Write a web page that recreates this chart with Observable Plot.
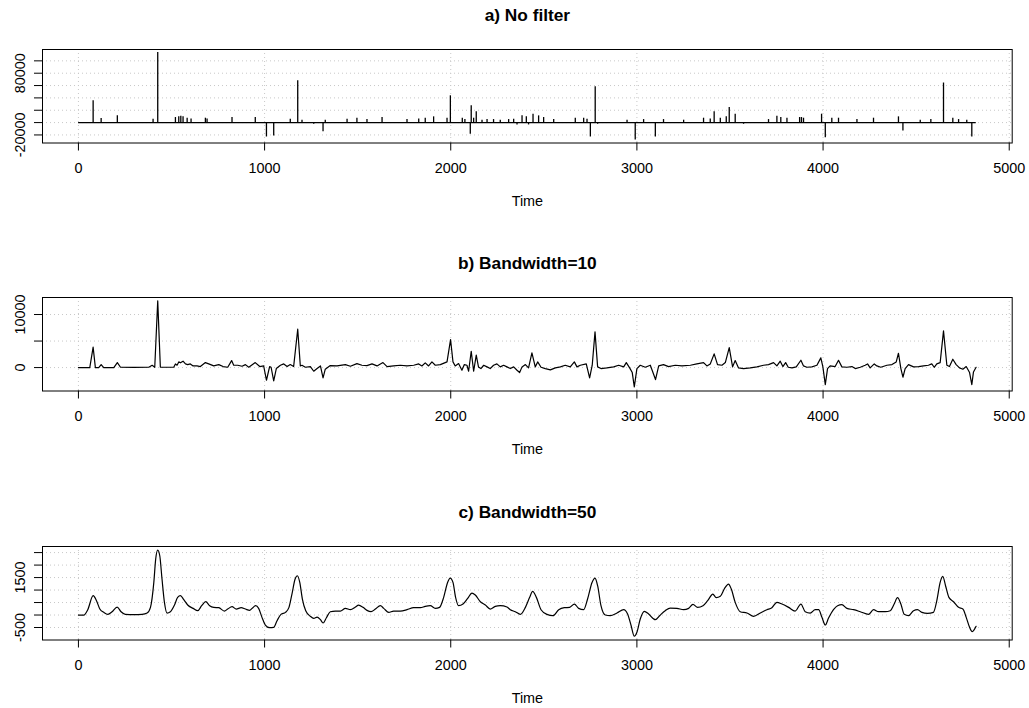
<!DOCTYPE html>
<html>
<head>
<meta charset="utf-8">
<script src="https://cdn.jsdelivr.net/npm/d3@7"></script>
<script src="https://cdn.jsdelivr.net/npm/@observablehq/plot@0.6"></script>
<style>
  html, body { margin: 0; padding: 0; background: #fff; }
  #root { position: relative; width: 1029px; height: 708px; overflow: hidden; background: #fff; }
  #root svg { position: absolute; left: 0; }
</style>
</head>
<body>
<div id="root"></div>
<script>
// ---------- data ----------
const titles = ["a) No filter", "b) Bandwidth=10", "c) Bandwidth=50"];
const xTicks = [0, 1000, 2000, 3000, 4000, 5000];
const timeRange = [1, 4823];

// a) raw series: spikes away from a zero baseline
const rawT = [79,122,209,401,426,521,539,550,562,584,605,682,691,825,950,1010,1049,1138,1178,1201,1264,1314,1326,1443,1496,1550,1631,1765,1828,1863,1908,1980,1998,2062,2076,2105,2110,2123,2137,2168,2195,2230,2266,2311,2338,2356,2383,2406,2418,2442,2472,2499,2553,2669,2714,2732,2750,2776,2789,2857,2947,2991,3036,3099,3143,3251,3358,3394,3415,3448,3480,3496,3528,3573,3707,3752,3773,3806,3874,3884,3895,3992,4012,4047,4083,4182,4271,4405,4429,4522,4579,4647,4697,4728,4772,4799];
const rawV = [35300,6570,10900,5500,113500,8200,9300,10400,9300,7100,6000,7100,6000,8200,8200,-23300,-21700,5500,67900,3900,-2700,-14700,3900,5500,7100,4900,8200,4900,6000,7100,9300,7100,43400,7100,4900,-19000,27200,7100,17400,3900,4900,4900,3900,4900,5500,-3800,10900,9300,-3800,13600,10900,8200,4900,7100,7100,5500,-23300,58100,-2700,-1600,3900,-28200,4900,-23300,4900,3900,7100,6000,17400,7100,9300,24500,13600,-2700,4900,10400,8200,7100,8200,8200,7100,13600,-24400,7100,7100,4900,7100,9300,-13500,3900,4900,64100,7100,4900,3900,-23300];

// b) bandwidth 10
const bwT10 = [0,61,79,91,109,122,136,190,209,226,297,378,396,410,426,440,458,512,521,530,539,548,562,575,587,601,616,637,655,682,700,727,754,777,802,823,834,856,879,897,915,950,974,995,1010,1027,1035,1049,1063,1085,1103,1121,1138,1156,1178,1192,1201,1219,1246,1264,1282,1300,1314,1326,1353,1389,1434,1461,1496,1523,1550,1577,1604,1636,1658,1693,1729,1765,1801,1828,1845,1863,1881,1899,1917,1944,1980,1999,2012,2024,2042,2060,2073,2087,2096,2110,2123,2137,2149,2162,2177,2195,2212,2230,2248,2266,2284,2302,2320,2338,2356,2370,2383,2401,2418,2436,2454,2467,2485,2508,2535,2562,2589,2615,2642,2664,2678,2696,2728,2746,2760,2775,2789,2807,2839,2875,2902,2929,2943,2961,2975,2986,3000,3018,3045,3072,3100,3117,3143,3170,3206,3242,3287,3322,3358,3376,3394,3415,3433,3457,3475,3496,3514,3528,3546,3573,3609,3645,3680,3707,3734,3752,3770,3784,3799,3813,3833,3856,3881,3895,3913,3940,3967,3988,3999,4012,4024,4038,4065,4083,4101,4128,4155,4173,4200,4226,4239,4253,4275,4289,4310,4343,4370,4393,4405,4418,4429,4441,4459,4486,4513,4540,4566,4584,4597,4611,4629,4647,4665,4679,4697,4715,4733,4751,4769,4787,4799,4808,4822];
const bwV10 = [0,0,3840,0,0,570,0,0,940,60,30,60,440,60,12580,100,60,60,690,450,1070,900,1200,690,560,690,310,310,190,940,690,310,560,190,60,1320,440,440,250,560,60,940,190,310,-2390,190,60,-2520,-190,440,690,190,560,190,7230,310,440,60,190,-690,-190,310,-1950,-310,380,310,560,250,750,440,380,690,310,940,190,310,440,310,440,690,310,880,310,1070,440,560,1070,5280,1070,310,750,-500,560,440,-690,3080,-690,2330,130,-190,440,130,-190,440,690,130,440,130,-190,130,-500,-940,130,560,-60,2770,130,1070,60,-190,-440,-60,130,440,130,1070,130,440,690,-1950,440,6730,130,-190,-60,130,440,130,940,-60,-940,-3650,-190,440,60,440,-2260,310,560,190,440,310,440,690,940,310,690,2580,560,440,940,3770,130,1320,-60,-190,-60,130,440,560,940,310,1200,190,940,60,-60,130,1380,310,60,130,440,1830,130,-3210,-190,310,190,1380,130,60,190,-190,60,440,690,-60,690,310,60,440,560,1070,2700,-190,-1820,-190,560,130,190,310,440,690,60,690,940,6920,440,190,1570,560,-60,-310,190,-940,-3210,-820,60];

// c) bandwidth 50
const bwT50 = [0,29,50,79,97,115,136,158,181,208,229,252,297,342,369,387,405,415,426,437,449,462,476,494,516,533,548,566,587,616,641,662,684,705,727,754,784,802,825,848,874,897,920,933,952,968,986,1004,1027,1049,1067,1088,1112,1131,1147,1164,1176,1189,1203,1221,1246,1264,1282,1300,1314,1332,1353,1380,1407,1434,1461,1488,1505,1529,1550,1572,1595,1622,1640,1667,1693,1729,1765,1801,1837,1863,1890,1917,1940,1962,1983,1997,2012,2026,2042,2066,2091,2114,2132,2159,2186,2212,2239,2266,2302,2320,2347,2374,2401,2424,2440,2460,2485,2517,2549,2580,2610,2639,2664,2687,2714,2735,2759,2775,2789,2807,2830,2857,2893,2929,2950,2968,2986,3000,3018,3040,3063,3099,3122,3152,3179,3215,3251,3278,3301,3326,3355,3380,3408,3426,3448,3471,3492,3507,3528,3555,3591,3627,3663,3698,3725,3752,3779,3815,3850,3881,3904,3931,3958,3976,3994,4012,4029,4056,4078,4101,4128,4164,4200,4244,4271,4298,4334,4361,4382,4400,4418,4436,4459,4486,4507,4531,4561,4593,4611,4629,4643,4658,4676,4701,4728,4751,4769,4787,4801,4812,4822];
const bwV50 = [0,0,213,773,573,240,107,27,133,320,133,27,13,27,80,307,1306,2240,2600,2373,1440,507,80,133,400,707,773,613,400,267,173,373,533,373,307,293,160,240,333,240,293,240,187,267,373,267,-93,-400,-507,-493,-227,27,107,307,840,1440,1573,1306,640,173,-53,-133,-80,-187,-320,-107,133,160,160,267,213,320,400,307,187,133,240,373,267,107,160,160,213,293,293,347,373,267,307,707,1306,1480,1306,707,373,440,667,880,800,533,400,240,347,373,320,213,133,27,307,707,947,707,213,27,-27,213,293,307,440,267,213,640,1306,1480,1173,373,0,-27,80,213,40,-400,-850,-693,-160,147,40,-187,-27,173,280,267,213,267,427,307,373,573,840,693,747,1067,1240,1040,507,133,80,-53,80,213,293,507,440,307,160,440,133,80,213,213,-93,-400,-133,213,373,413,267,213,133,27,213,133,133,173,440,693,440,27,-27,173,213,107,67,107,573,1306,1546,1173,707,533,307,240,-93,-493,-667,-587,-453];

// y-axis ticks and labels per panel
const yTicksA = [-20000, 0, 20000, 40000, 60000, 80000, 100000];
const yLabelsA = [-20000, 80000];
const yTicksB = [0, 5000, 10000];
const yLabelsB = [0, 10000];
const yTicksC = [-500, 0, 500, 1000, 1500, 2000, 2500];
const yLabelsC = [-500, 1500];

// ---------- layout ----------
const FONT = "'Liberation Sans', Arial, Helvetica, sans-serif";
const W = 1029;
const mT = 49, plotH = 93.5, mB = 66.5;
const H = mT + plotH + mB;
const panelTops = [0, 248.3, 496.7];
const xDomain = [-193, 5016];

function panel(i, yDomain, yTicks, yLabels, dataMarks) {
  const grid = {stroke: "#c8c8c8", strokeDasharray: "1,3", strokeWidth: 1};
  const svg = Plot.plot({
    width: W,
    height: H,
    marginLeft: 42,
    marginRight: 17.3,
    marginTop: mT,
    marginBottom: mB,
    style: {fontFamily: FONT, background: "#fff", color: "#000"},
    x: {domain: xDomain, axis: null},
    y: {domain: yDomain, axis: null},
    marks: [
      Plot.ruleX(xTicks, grid),
      Plot.ruleY(yTicks, grid),
      ...dataMarks,
      Plot.frame({stroke: "#000", strokeWidth: 1}),
      Plot.axisX(xTicks, {tickSize: 8, tickPadding: 12, fontSize: 14.4, tickFormat: d => String(d), label: null}),
      Plot.axisY(yTicks, {tickSize: 8, tickFormat: () => "", label: null}),
      Plot.text(yLabels, {
        y: d => d, text: d => String(d), frameAnchor: "left", dx: -22.5,
        rotate: -90, textAnchor: "middle", lineAnchor: "middle", fontSize: 14.4, fill: "#000"
      }),
      Plot.text([titles[i]], {
        frameAnchor: "top", dy: -34, lineAnchor: "middle",
        fontSize: 17.3, fontWeight: "bold", fill: "#000"
      }),
      Plot.text(["Time"], {
        frameAnchor: "bottom", dy: 58.5, lineAnchor: "middle", fontSize: 14.4, fill: "#000"
      })
    ]
  });
  svg.style.top = panelTops[i] + "px";
  return svg;
}

const rawData = rawT.map((t, k) => ({t, v: rawV[k]}));
const b10 = bwT10.map((t, k) => ({t, v: bwV10[k]}));
const b50 = bwT50.map((t, k) => ({t, v: bwV50[k]}));

const root = document.getElementById("root");
root.appendChild(panel(0, [-33060, 118400], yTicksA, yLabelsA, [
  Plot.ruleY([0], {x1: timeRange[0], x2: timeRange[1], stroke: "#000", strokeWidth: 1.2}),
  Plot.ruleX(rawData, {x: "t", y1: 0, y2: "v", stroke: "#000", strokeWidth: 1.3})
]));
root.appendChild(panel(1, [-4415, 13208], yTicksB, yLabelsB, [
  Plot.line(b10, {x: "t", y: "v", stroke: "#000", strokeWidth: 1.2, curve: "linear"})
]));
root.appendChild(panel(2, [-1000, 2744], yTicksC, yLabelsC, [
  Plot.line(b50, {x: "t", y: "v", stroke: "#000", strokeWidth: 1.2, curve: "monotone-x"})
]));
</script>
</body>
</html>
